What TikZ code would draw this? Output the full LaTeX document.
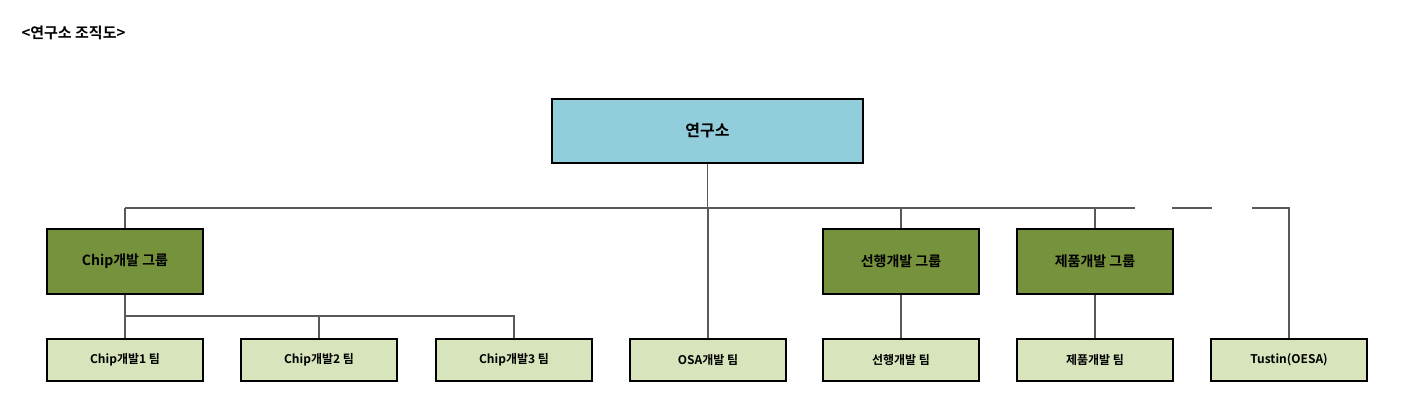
\documentclass[tikz,border=0pt]{standalone}
\usepackage{fontspec}
\setmainfont{Noto Sans CJK KR}[BoldFont={Noto Sans CJK KR Bold}]
\begin{document}
\begin{tikzpicture}[x=1pt,y=-1pt,
  ln/.style={draw=black!65,line width=1.2pt},
  bx/.style={draw=black,line width=2pt,inner sep=0pt,font=\bfseries},
  topbox/.style={bx,fill=cyan!25!blue!10!white,fill={rgb,255:red,146;green,205;blue,220},minimum width=311pt,minimum height=64pt,font=\bfseries\fontsize{16}{18}\selectfont},
  grp/.style={bx,fill={rgb,255:red,118;green,146;blue,60},minimum width=156pt,minimum height=65pt,font=\bfseries\fontsize{14}{16}\selectfont},
  team/.style={bx,fill={rgb,255:red,215;green,228;blue,188},minimum width=156pt,minimum height=42pt,font=\bfseries\fontsize{12}{14}\selectfont}]
\useasboundingbox (0,0) rectangle (1417,411);
\node[anchor=west,font=\bfseries\fontsize{15}{17}\selectfont] (title) at (18,33) {<연구소 조직도>};
\node[topbox] (root) at (707.5,131) {연구소};
\node[grp] (g1) at (125,261.5) {Chip개발 그룹};
\node[grp] (g2) at (901,261.5) {선행개발 그룹};
\node[grp] (g3) at (1095,261.5) {제품개발 그룹};
\node[team] (t1) at (125,360) {Chip개발1 팀};
\node[team] (t2) at (319,360) {Chip개발2 팀};
\node[team] (t3) at (514,360) {Chip개발3 팀};
\node[team] (t4) at (708,360) {OSA개발 팀};
\node[team] (t5) at (901,360) {선행개발 팀};
\node[team] (t6) at (1095,360) {제품개발 팀};
\node[team] (t7) at (1289,360) {Tustin(OESA)};
\coordinate (b0) at (125,208);
\coordinate (b1) at (1135,208);
\coordinate (d1) at (1172,208);
\coordinate (d2) at (1212,208);
\coordinate (d3) at (1252,208);
\coordinate (d4) at (1289,208);
\draw[ln] (root.south) -- (root.south|-b0);
\draw[ln] (b0) -- (b1);
\draw[ln] (d1) -- (d2);
\draw[ln] (d3) -- (d4) -- (t7.north);
\draw[ln] (b0) -- (g1.north);
\draw[ln] (g2.north|-b0) -- (g2.north);
\draw[ln] (g3.north|-b0) -- (g3.north);
\draw[ln] (t4.north|-b0) -- (t4.north);
\draw[ln] (g2.south) -- (t5.north);
\draw[ln] (g3.south) -- (t6.north);
\coordinate (s0) at (125,316);
\draw[ln] (g1.south) -- (t1.north);
\draw[ln] (s0) -- (t3.north|-s0) -- (t3.north);
\draw[ln] (t2.north|-s0) -- (t2.north);
\end{tikzpicture}
\end{document}
